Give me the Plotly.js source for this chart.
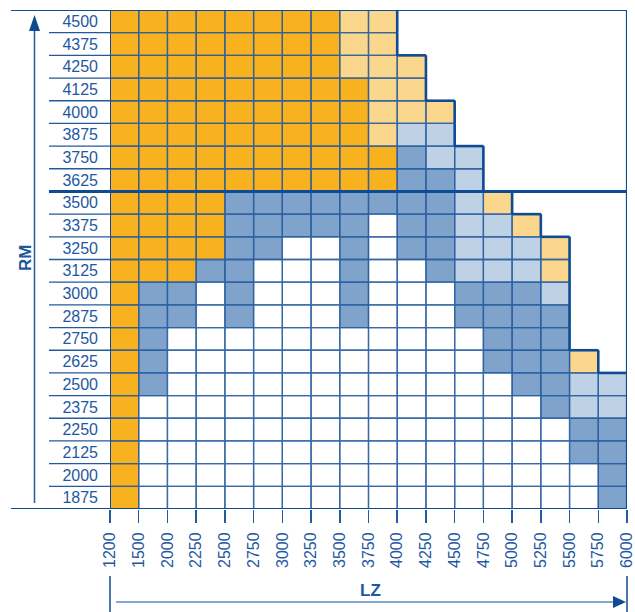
<!DOCTYPE html>
<html>
<head>
<meta charset="utf-8">
<script src="https://cdn.plot.ly/plotly-3.0.1.min.js"></script>
<style>html,body{margin:0;padding:0;background:#fff}#chart{width:635px;height:612px}</style>
</head>
<body>
<div id="chart"></div>
<script>
// LZ column boundaries (tick labels at the cell edges)
const lzLabels = ['1200','1500','2000','2250','2500','2750','3000','3250','3500','3750','4000','4250','4500','4750','5000','5250','5500','5750','6000'];
// RM row labels, top to bottom
const rmLabels = ['4500','4375','4250','4125','4000','3875','3750','3625','3500','3375','3250','3125','3000','2875','2750','2625','2500','2375','2250','2125','2000','1875'];
// Cell classes per row, left to right (O = orange, L = light orange, B = blue, P = pale blue, W = white); cells past the string end are absent
const rowCells = [
  'OOOOOOOOLL',
  'OOOOOOOOLL',
  'OOOOOOOOLLL',
  'OOOOOOOOOLL',
  'OOOOOOOOOLLL',
  'OOOOOOOOOLPP',
  'OOOOOOOOOOBPP',
  'OOOOOOOOOOBBP',
  'OOOOBBBBBBBBPL',
  'OOOOBBBBBWBBPPL',
  'OOOOBBWWBWBBPPPL',
  'OOOBBWWWBWWBPPPL',
  'OBBWBWWWBWWWBBBP',
  'OBBWBWWWBWWWBBBB',
  'OBWWWWWWWWWWWBBB',
  'OBWWWWWWWWWWWBBBL',
  'OBWWWWWWWWWWWWBBPP',
  'OWWWWWWWWWWWWWWBPP',
  'OWWWWWWWWWWWWWWWBB',
  'OWWWWWWWWWWWWWWWBB',
  'OWWWWWWWWWWWWWWWWB',
  'OWWWWWWWWWWWWWWWWB'
];
const classOrder = ['W','O','L','B','P'];
const classColors = ['#FFFFFF','#F8B220','#FBD78E','#7FA3CA','#BFD1E4'];

const lineBlue = '#235A9D';
const textBlue = '#1F58A0';
const nCols = lzLabels.length - 1;
const nRows = rmLabels.length;

const xCenters = [], z = [];
for (let c = 0; c < nCols; c++) xCenters.push(c + 0.5);
const yIdx = rmLabels.map((_, i) => i);
rowCells.forEach(s => {
  const row = [];
  for (let c = 0; c < nCols; c++) row.push(c < s.length ? classOrder.indexOf(s[c]) : null);
  z.push(row);
});

const cs = classColors.map((col, k) => [k / (classColors.length - 1), col]);

// grid outlines for present cells
const gx = [], gy = [];
const ex = [], ey = [];
rowCells.forEach((s, i) => {
  for (let c = 0; c < s.length; c++) {
    gx.push(c, c + 1, c + 1, c, c, null);
    gy.push(i - 0.5, i - 0.5, i + 0.5, i + 0.5, i - 0.5, null);
    // staircase edges
    if (c === s.length - 1 && c + 1 < nCols) { ex.push(c + 1, c + 1, null); ey.push(i - 0.5, i + 0.5, null); }
    if (i > 0 && rowCells[i - 1].length <= c) { ex.push(c, c + 1, null); ey.push(i - 0.5, i - 0.5, null); }
  }
});

const L = 110, R = 8, T = 10, B = 103, W = 635, H = 612;
const pw = W - L - R, ph = H - T - B;
const px = v => (v - L) / pw;
const py = v => (H - B - v) / ph;

const traces = [
  {type: 'heatmap', x: xCenters, y: yIdx, z: z, zmin: 0, zmax: classColors.length - 1,
   colorscale: cs, showscale: false, hoverinfo: 'skip', xgap: 0, ygap: 0},
  {type: 'scatter', mode: 'lines', x: gx, y: gy, line: {color: lineBlue, width: 1.3},
   hoverinfo: 'skip', cliponaxis: false, opacity: 0.9},
  {type: 'scatter', mode: 'lines', x: ex, y: ey, line: {color: '#0E4B93', width: 2.6},
   hoverinfo: 'skip', cliponaxis: false}
];

const shapes = [];
// label-area row separators
for (let i = 0; i <= nRows; i++) {
  shapes.push({type: 'line', xref: 'paper', yref: 'y', x0: px(49), x1: 0, y0: i - 0.5, y1: i - 0.5,
    line: {color: lineBlue, width: 1.3}});
}
// frame
shapes.push({type: 'line', xref: 'paper', yref: 'y', x0: px(11), x1: 1, y0: -0.5, y1: -0.5, line: {color: '#0E4B93', width: 2}});
shapes.push({type: 'line', xref: 'paper', yref: 'y', x0: px(11), x1: 1, y0: nRows - 0.5, y1: nRows - 0.5, line: {color: '#0E4B93', width: 2.2}});
shapes.push({type: 'line', xref: 'paper', yref: 'y', x0: px(49), x1: 1, y0: 7.5, y1: 7.5, line: {color: '#0E4B93', width: 3}});
shapes.push({type: 'line', xref: 'x', yref: 'y', x0: nCols, x1: nCols, y0: -0.5, y1: nRows - 0.5, line: {color: '#0E4B93', width: 2.2}});
shapes.push({type: 'line', xref: 'x', yref: 'y', x0: 0, x1: 0, y0: -0.5, y1: nRows - 0.5, line: {color: '#0E4B93', width: 2}});
// RM arrow
shapes.push({type: 'line', xref: 'paper', yref: 'paper', x0: px(34.5), x1: px(34.5), y0: py(503), y1: py(28), line: {color: lineBlue, width: 1.5}});
shapes.push({type: 'path', xref: 'paper', yref: 'paper',
  path: `M ${px(29)} ${py(31)} L ${px(40)} ${py(31)} L ${px(34.5)} ${py(15)} Z`,
  fillcolor: '#0E4B93', line: {width: 0}});
// LZ arrow
shapes.push({type: 'line', xref: 'paper', yref: 'paper', x0: 0, x1: 0, y0: py(576), y1: py(612), line: {color: '#0E4B93', width: 1.5}});
shapes.push({type: 'line', xref: 'paper', yref: 'paper', x0: 1, x1: 1, y0: py(576), y1: py(612), line: {color: '#0E4B93', width: 1.5}});
shapes.push({type: 'line', xref: 'paper', yref: 'paper', x0: px(116), x1: px(616), y0: py(602), y1: py(602), line: {color: '#5C88BF', width: 1.5}});
shapes.push({type: 'path', xref: 'paper', yref: 'paper',
  path: `M ${px(613)} ${py(596)} L ${px(613)} ${py(608)} L ${px(626)} ${py(602)} Z`,
  fillcolor: '#0E4B93', line: {width: 0}});

const font = 'Liberation Sans, Arial, sans-serif';
const layout = {
  width: W, height: H,
  margin: {l: L, r: R, t: T, b: B, pad: 0},
  paper_bgcolor: '#FFFFFF', plot_bgcolor: '#FFFFFF',
  showlegend: false,
  font: {family: font, color: textBlue},
  xaxis: {range: [0, nCols], tickmode: 'array', tickvals: lzLabels.map((_, i) => i), ticktext: lzLabels,
    tickangle: -90, ticks: 'outside', ticklen: 13, tickwidth: 1.5, tickcolor: lineBlue,
    ticklabelstandoff: 3, ticklabeloverflow: 'allow',
    showgrid: false, zeroline: false, showline: false, tickfont: {size: 16, color: textBlue}, fixedrange: true},
  yaxis: {range: [nRows - 0.5, -0.5], tickmode: 'array', tickvals: yIdx, ticktext: rmLabels,
    ticks: '', ticklabelstandoff: 11, ticklabeloverflow: 'allow',
    showgrid: false, zeroline: false, showline: false, tickfont: {size: 16, color: textBlue}, fixedrange: true},
  shapes: shapes,
  annotations: [
    {text: '<b>RM</b>', xref: 'paper', yref: 'paper', x: px(25), y: py(258), textangle: -90,
     showarrow: false, font: {size: 17, color: textBlue, family: font}, xanchor: 'center', yanchor: 'middle'},
    {text: '<b>LZ</b>', xref: 'paper', yref: 'paper', x: px(370), y: py(590),
     showarrow: false, font: {size: 17, color: textBlue, family: font}, xanchor: 'center', yanchor: 'middle'}
  ]
};

Plotly.newPlot('chart', traces, layout, {displayModeBar: false, staticPlot: true});
</script>
</body>
</html>
